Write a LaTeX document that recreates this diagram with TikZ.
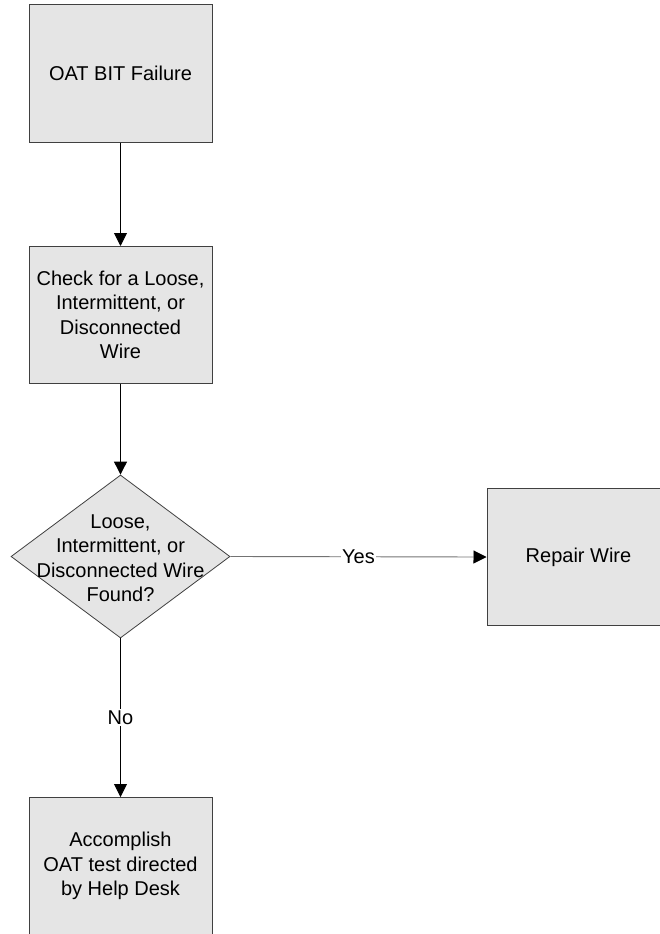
\documentclass[tikz,border=0pt]{standalone}
\usepackage{fontspec}
\setmainfont{Liberation Sans}
\usetikzlibrary{shapes.geometric,arrows.meta}
\definecolor{boxfill}{HTML}{E5E5E5}
\definecolor{boxline}{HTML}{404040}
\begin{document}
\begin{tikzpicture}[x=1pt,y=-1pt,
  font=\fontsize{20}{24.5}\selectfont,
  stepbox/.style={draw=boxline, fill=boxfill, line width=1pt,
    minimum width=183pt, minimum height=137pt, inner sep=0pt, align=center},
  decision/.style={diamond, draw=boxline, fill=boxfill, line width=0.8pt,
    minimum width=219pt, minimum height=163pt, inner sep=0pt},
  flow/.style={line width=0.9pt, -{Triangle[length=13pt,width=13pt,color=black]}},
  tag/.style={fill=white, inner sep=1.5pt}]
\useasboundingbox (0,0) rectangle (660,934);

\node[stepbox] (fail) at (120.5,73.5) {OAT BIT Failure};
\node[stepbox] (check) at (120.5,315) {Check for a Loose,\\Intermittent, or\\Disconnected\\Wire};
\node[decision] (found) at (120.5,556.5) {};
\node[align=center] (foundtext) at (120.5,558) {Loose,\\Intermittent, or\\Disconnected Wire\\Found?};
\node[stepbox] (repair) at (578.5,557) {Repair Wire};
\node[stepbox] (oat) at (120.5,866) {Accomplish\\OAT test directed\\by Help Desk};

\draw[flow] (fail) -- (check);
\draw[flow] (check) -- (found);
\draw[flow, draw=black!55] (found.east) -- node[tag] {Yes} (repair.west);
\draw[flow] (found.south) -- node[tag] {No} (oat.north);
\end{tikzpicture}
\end{document}
